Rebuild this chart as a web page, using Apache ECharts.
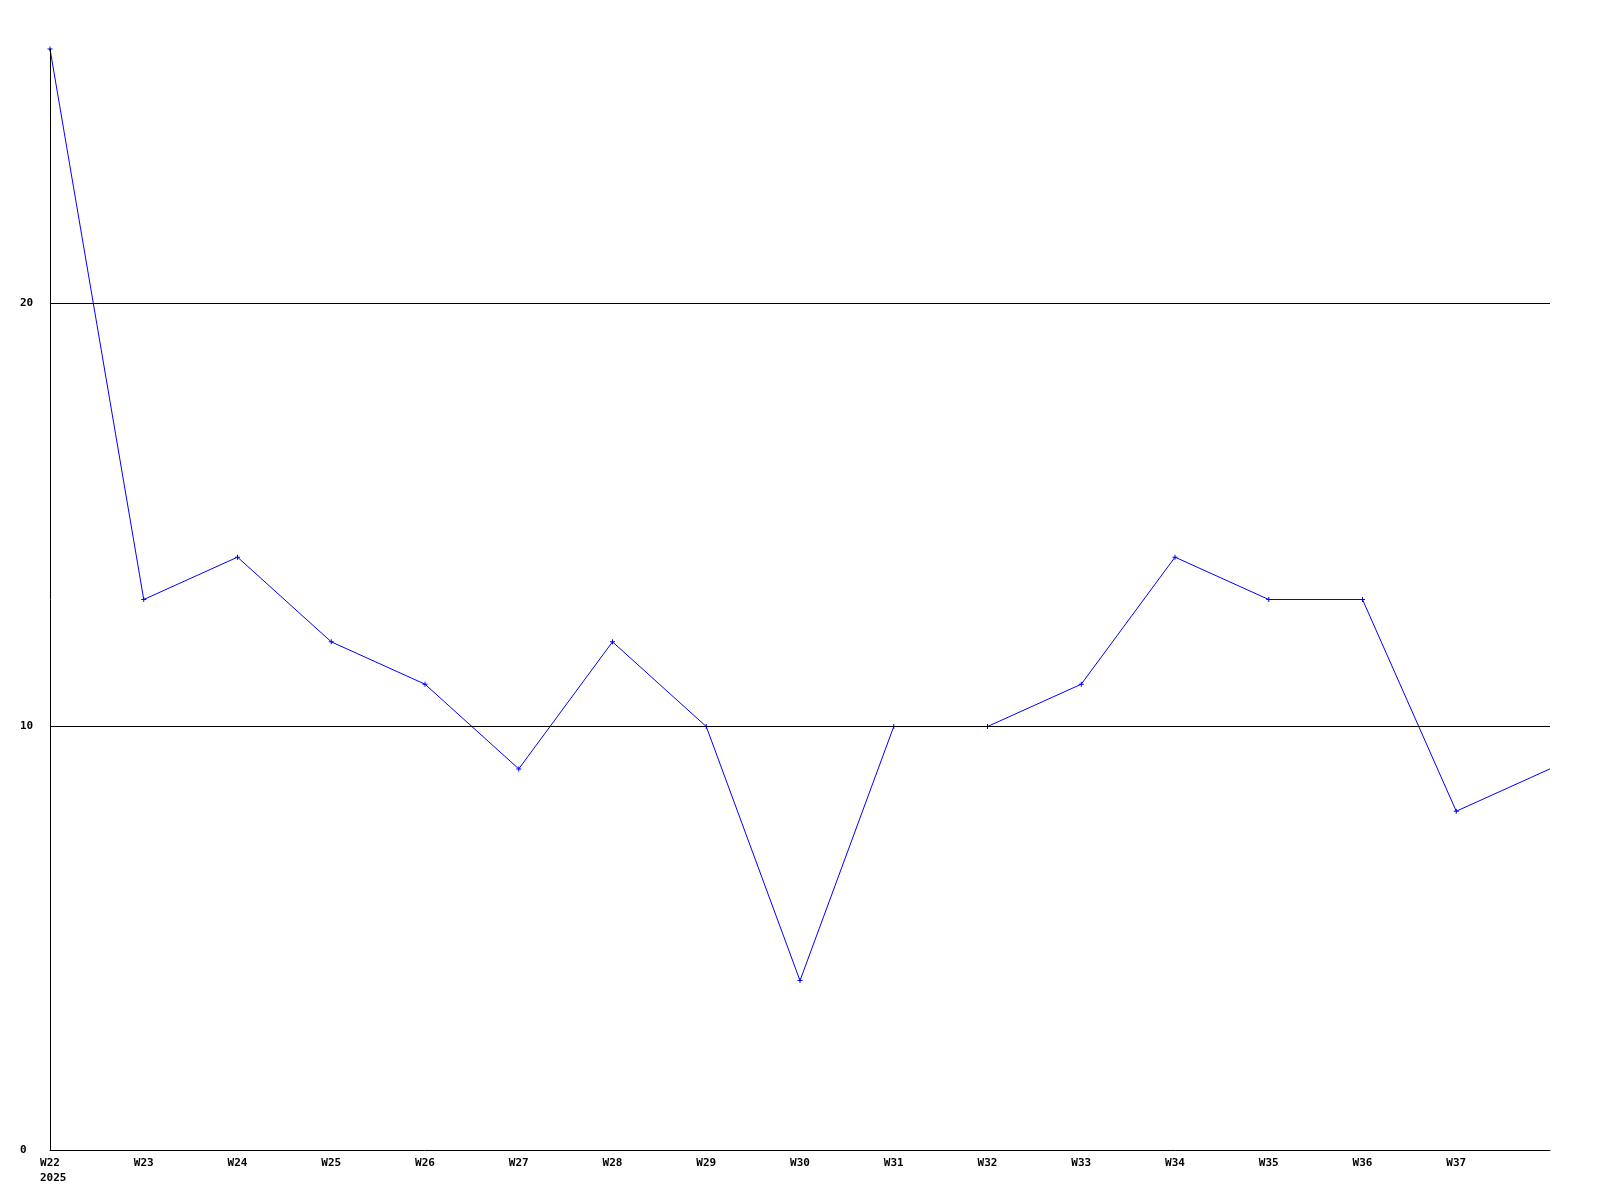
<!DOCTYPE html>
<html>
<head>
<meta charset="utf-8">
<script src="https://cdn.jsdelivr.net/npm/echarts@6/dist/echarts.min.js"></script>
<style>html,body{margin:0;padding:0;background:#fff;}#c{width:1600px;height:1200px;}</style>
</head>
<body>
<div id="c"></div>
<script>
const categories = ['W22','W23','W24','W25','W26','W27','W28','W29','W30','W31','W32','W33','W34','W35','W36','W37','W38'];
const values = [26,13,14,12,11,9,12,10,4,10,10,11,14,13,13,8,9];
const yearLabel = '2025';

const chart = echarts.init(document.getElementById('c'));
const font = {fontFamily:'DejaVu Sans Mono', fontWeight:'bold', fontSize:11, color:'#000'};
chart.setOption({
  animation:false,
  backgroundColor:'#fff',
  grid:{left:50, right:50, top:49, bottom:50, containLabel:false},
  xAxis:{
    type:'category', data:categories, boundaryGap:false, z:3,
    axisLine:{lineStyle:{color:'#000', width:1}},
    axisTick:{show:false},
    splitLine:{show:false},
    axisLabel:Object.assign({}, font, {
      margin:6, interval:0, lineHeight:15,
      formatter:function(v, i){
        if (i === categories.length - 1) return '';
        if (i === 0) return '{w|' + v + '}\n{y|' + yearLabel + '}';
        return v;
      },
      rich:{
        w:Object.assign({}, font, {width:20, align:'center', lineHeight:15}),
        y:Object.assign({}, font, {width:20, align:'left', lineHeight:15})
      }
    })
  },
  yAxis:{
    type:'value', min:0, max:26, interval:10, z:3,
    axisLine:{show:true, lineStyle:{color:'#000', width:1}},
    axisTick:{show:false},
    splitLine:{show:true, showMinLine:false, showMaxLine:false, lineStyle:{color:'#000', width:1}},
    axisLabel:Object.assign({}, font, {align:'left', margin:30, showMaxLabel:false})
  },
  series:[{
    type:'line', z:1, clip:false,
    data:values.map((v,i)=> i===values.length-1 ? {value:v, symbol:'none'} : v),
    symbol:'path://M2,0H3V2H5V3H3V5H2V3H0V2H2Z', symbolSize:5, showAllSymbol:true,
    lineStyle:{color:'#0000ff', width:1},
    itemStyle:{color:'#0000ff'}
  }]
});
</script>
</body>
</html>
